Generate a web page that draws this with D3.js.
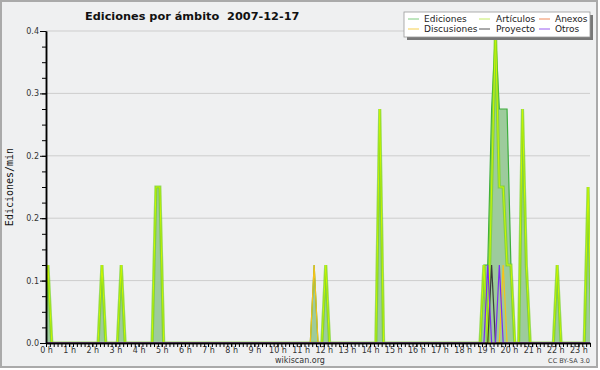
<!DOCTYPE html>
<html lang="es">
<head>
<meta charset="utf-8">
<title>Ediciones por ámbito 2007-12-17</title>
<script src="https://cdn.jsdelivr.net/npm/d3@7"></script>
<style>
  body { margin: 0; background: #fff; }
  svg { display: block; }
</style>
</head>
<body>
<script>

// ediciones por minuto, tramos de 10 minutos (6 por hora, 24 valores por linea = 4 h)
var ediciones = [
  0.1,0,0,0,0,0, 0,0,0,0,0,0, 0,0,0.1,0,0,0, 0,0.1,0,0,0,0,
  0,0,0,0,0.2,0.2, 0,0,0,0,0,0, 0,0,0,0,0,0, 0,0,0,0,0,0,
  0,0,0,0,0,0, 0,0,0,0,0,0, 0,0,0,0,0,0, 0,0,0,0.1,0,0,
  0.1,0,0,0,0,0, 0,0,0,0,0,0, 0,0,0.3,0,0,0, 0,0,0,0,0,0,
  0,0,0,0,0,0, 0,0,0,0,0,0, 0,0,0,0,0,0.1, 0.1,0.3,0.4,0.3,0.3,0.3,
  0.1,0,0,0.3,0.1,0, 0,0,0,0,0,0, 0.1,0,0,0,0,0, 0,0,0.2,0,0,0
];
var articulos = [
  0.1,0,0,0,0,0, 0,0,0,0,0,0, 0,0,0.1,0,0,0, 0,0.1,0,0,0,0,
  0,0,0,0,0.2,0.2, 0,0,0,0,0,0, 0,0,0,0,0,0, 0,0,0,0,0,0,
  0,0,0,0,0,0, 0,0,0,0,0,0, 0,0,0,0,0,0, 0,0,0,0,0,0,
  0.1,0,0,0,0,0, 0,0,0,0,0,0, 0,0,0.3,0,0,0, 0,0,0,0,0,0,
  0,0,0,0,0,0, 0,0,0,0,0,0, 0,0,0,0,0,0.1, 0,0.2,0.4,0.2,0.2,0.1,
  0.1,0,0,0.3,0.1,0, 0,0,0,0,0,0, 0.1,0,0,0,0,0, 0,0,0.2,0,0,0
];
var anexos = [
  0,0,0,0,0,0, 0,0,0,0,0,0, 0,0,0,0,0,0, 0,0,0,0,0,0,
  0,0,0,0,0,0, 0,0,0,0,0,0, 0,0,0,0,0,0, 0,0,0,0,0,0,
  0,0,0,0,0,0, 0,0,0,0,0,0, 0,0,0,0,0,0, 0,0,0,0,0,0,
  0,0,0,0,0,0, 0,0,0,0,0,0, 0,0,0,0,0,0, 0,0,0,0,0,0,
  0,0,0,0,0,0, 0,0,0,0,0,0, 0,0,0,0,0,0, 0,0,0,0,0,0,
  0,0,0,0,0,0, 0,0,0,0,0,0, 0,0,0,0,0,0, 0,0,0,0,0,0
];
var discusiones = [
  0,0,0,0,0,0, 0,0,0,0,0,0, 0,0,0,0,0,0, 0,0,0,0,0,0,
  0,0,0,0,0,0, 0,0,0,0,0,0, 0,0,0,0,0,0, 0,0,0,0,0,0,
  0,0,0,0,0,0, 0,0,0,0,0,0, 0,0,0,0,0,0, 0,0,0,0.1,0,0,
  0,0,0,0,0,0, 0,0,0,0,0,0, 0,0,0,0,0,0, 0,0,0,0,0,0,
  0,0,0,0,0,0, 0,0,0,0,0,0, 0,0,0,0,0,0, 0,0,0,0,0.1,0,
  0,0,0,0,0,0, 0,0,0,0,0,0, 0,0,0,0,0,0, 0,0,0,0,0,0
];
var proyecto = [
  0,0,0,0,0,0, 0,0,0,0,0,0, 0,0,0,0,0,0, 0,0,0,0,0,0,
  0,0,0,0,0,0, 0,0,0,0,0,0, 0,0,0,0,0,0, 0,0,0,0,0,0,
  0,0,0,0,0,0, 0,0,0,0,0,0, 0,0,0,0,0,0, 0,0,0,0,0,0,
  0,0,0,0,0,0, 0,0,0,0,0,0, 0,0,0,0,0,0, 0,0,0,0,0,0,
  0,0,0,0,0,0, 0,0,0,0,0,0, 0,0,0,0,0,0, 0,0.1,0,0,0,0,
  0,0,0,0,0,0, 0,0,0,0,0,0, 0,0,0,0,0,0, 0,0,0,0,0,0
];
var otros = [
  0,0,0,0,0,0, 0,0,0,0,0,0, 0,0,0,0,0,0, 0,0,0,0,0,0,
  0,0,0,0,0,0, 0,0,0,0,0,0, 0,0,0,0,0,0, 0,0,0,0,0,0,
  0,0,0,0,0,0, 0,0,0,0,0,0, 0,0,0,0,0,0, 0,0,0,0,0,0,
  0,0,0,0,0,0, 0,0,0,0,0,0, 0,0,0,0,0,0, 0,0,0,0,0,0,
  0,0,0,0,0,0, 0,0,0,0,0,0, 0,0,0,0,0,0, 0.1,0,0,0.1,0,0,
  0,0,0,0,0,0, 0,0,0,0,0,0, 0,0,0,0,0,0, 0,0,0,0,0,0
];

var seriesNames = ["Ediciones", "Artículos", "Anexos", "Discusiones", "Proyecto", "Otros"];
var yTicks = [0, 0.08, 0.16, 0.24, 0.32, 0.4];
var hours = d3.range(0, 24);
var titulo = "Ediciones por ámbito  2007-12-17";

//Width and height
var w = 600;
var h = 370;
var plotL = 46, plotR = 590, plotT = 31, plotB = 343;

var svg = d3.select("body")
            .append("svg")
            .attr("width", w)
            .attr("height", h);

// marco
svg.append("rect")
   .attr("x", 1).attr("y", 1)
   .attr("width", 596).attr("height", 366)
   .attr("fill", "#eff0f1")
   .attr("stroke", "#aaa")
   .attr("stroke-width", 2);

var x = d3.scaleLinear().domain([0, 23.5]).range([plotL, plotR]);
var y = d3.scaleLinear().domain([0, 0.4]).range([plotB, plotT]);

// lineas de la rejilla
svg.append("g")
   .selectAll("line")
   .data(yTicks.slice(1))
   .enter()
   .append("line")
   .attr("x1", plotL).attr("x2", plotR)
   .attr("y1", function(d) { return y(d); })
   .attr("y2", function(d) { return y(d); })
   .attr("stroke", "#cdcdcd")
   .attr("stroke-width", 1);

svg.append("clipPath")
   .attr("id", "plot")
   .append("rect")
   .attr("x", plotL).attr("y", 0)
   .attr("width", plotR - plotL).attr("height", plotB);

var plot = svg.append("g").attr("clip-path", "url(#plot)");

//puntos en el centro de cada tramo, con un cero antes del primero
function points(arr) {
  var p = arr.map(function(v, i) { return { t: (i + 0.5) / 6, v: v }; });
  p.unshift({ t: -0.5 / 6, v: 0 });
  return p;
}

var line = d3.line()
             .x(function(d) { return x(d.t); })
             .y(function(d) { return y(d.v); });

var area = d3.area()
             .x(function(d) { return x(d.t); })
             .y0(y(0))
             .y1(function(d) { return y(d.v); });

plot.append("path")
    .attr("d", area(points(ediciones)))
    .attr("fill", "#9dcb9c");
plot.append("path")
    .attr("d", line(points(ediciones)))
    .attr("fill", "none")
    .attr("stroke", "#3cae3c")
    .attr("stroke-width", 1.2);

// articulos: linea con halo
plot.append("path")
    .attr("d", line(points(articulos)))
    .attr("fill", "none")
    .attr("stroke", "#76d41c")
    .attr("stroke-opacity", 0.7)
    .attr("stroke-width", 3.2);
plot.append("path")
    .attr("d", line(points(articulos)))
    .attr("fill", "none")
    .attr("stroke", "#ccf700")
    .attr("stroke-width", 1);

var others = [
  { data: anexos, color: "#f07a48" },
  { data: discusiones, color: "#f5c21a" },
  { data: proyecto, color: "#3c3c3c" },
  { data: otros, color: "#7a2ef0" }
];
others.forEach(function(s) {
  plot.append("path")
      .attr("d", line(points(s.data)))
      .attr("fill", "none")
      .attr("stroke", s.color)
      .attr("stroke-width", 1.2);
});

// ejes
var yAxis = svg.append("g")
   .attr("transform", "translate(" + plotL + ",0)")
   .call(d3.axisLeft(y).tickValues(yTicks).tickFormat(d3.format(".1f")).tickSize(6).tickSizeOuter(0));
svg.append("g")
   .attr("transform", "translate(" + plotL + ",0)")
   .call(d3.axisLeft(y).ticks(20).tickFormat("").tickSize(4).tickSizeOuter(0));

var xAxis = svg.append("g")
   .attr("transform", "translate(0," + plotB + ")")
   .call(d3.axisBottom(x).tickValues(hours).tickFormat(function(d) { return d + " h"; }).tickSize(4).tickSizeOuter(0));
svg.append("g")
   .attr("transform", "translate(0," + plotB + ")")
   .call(d3.axisBottom(x).tickValues(d3.range(0, 23.5 + 1e-6, 1 / 6)).tickFormat("").tickSize(4).tickSizeOuter(0));

svg.selectAll(".domain").attr("stroke", "#000").attr("stroke-width", 1.5);
svg.selectAll(".tick line").attr("stroke", "#000");
svg.selectAll(".tick text")
   .attr("font-family", "DejaVu Sans")
   .attr("font-size", "8px")
   .attr("fill", "#333");
yAxis.selectAll(".tick text").attr("x", -7);
xAxis.selectAll(".tick text").attr("dy", "0.6em").attr("y", 5);

// titulo
svg.append("text")
   .attr("x", 85).attr("y", 20)
   .style("white-space", "pre")
   .attr("font-family", "DejaVu Sans")
   .attr("font-weight", "bold")
   .attr("font-size", "11.3px")
   .attr("fill", "#111")
   .text(titulo);

svg.append("text")
   .attr("transform", "translate(13," + ((plotT + plotB) / 2) + ") rotate(-90)")
   .attr("text-anchor", "middle")
   .attr("font-family", "DejaVu Sans Mono")
   .attr("font-size", "10px")
   .attr("fill", "#111")
   .text("Ediciones/min");

svg.append("text")
   .attr("x", 300).attr("y", 363)
   .attr("text-anchor", "middle")
   .attr("font-family", "DejaVu Sans")
   .attr("font-size", "8px")
   .attr("fill", "#333")
   .text("wikiscan.org");

svg.append("text")
   .attr("x", 590).attr("y", 363)
   .attr("text-anchor", "end")
   .attr("font-family", "DejaVu Sans")
   .attr("font-size", "6.5px")
   .attr("fill", "#444")
   .text("CC BY-SA 3.0");

// leyenda
var legendColors = ["#7fcc7f", "#c4ec66", "#f08a5a", "#f5cf4f", "#555", "#9a5cf0"];
var colLine = [408, 479, 539];
var colText = [424, 496, 555];
var rowY = [19, 29];

svg.append("rect")
   .attr("x", 407).attr("y", 15)
   .attr("width", 186).attr("height", 25)
   .attr("fill", "#777");
svg.append("rect")
   .attr("x", 404).attr("y", 12)
   .attr("width", 186).attr("height", 25)
   .attr("fill", "#fff")
   .attr("stroke", "#999")
   .attr("stroke-width", 0.8);

var legend = svg.selectAll(".leg")
   .data(seriesNames)
   .enter()
   .append("g")
   .attr("class", "leg");
legend.append("line")
   .attr("x1", function(d, i) { return colLine[i % 3]; })
   .attr("x2", function(d, i) { return colLine[i % 3] + 11; })
   .attr("y1", function(d, i) { return rowY[Math.floor(i / 3)]; })
   .attr("y2", function(d, i) { return rowY[Math.floor(i / 3)]; })
   .attr("stroke", function(d, i) { return legendColors[i]; })
   .attr("stroke-width", 1);
legend.append("text")
   .attr("x", function(d, i) { return colText[i % 3]; })
   .attr("y", function(d, i) { return rowY[Math.floor(i / 3)] + 3; })
   .attr("font-family", "DejaVu Sans")
   .attr("font-size", "9px")
   .attr("fill", "#222")
   .text(function(d) { return d; });

</script>
</body>
</html>
